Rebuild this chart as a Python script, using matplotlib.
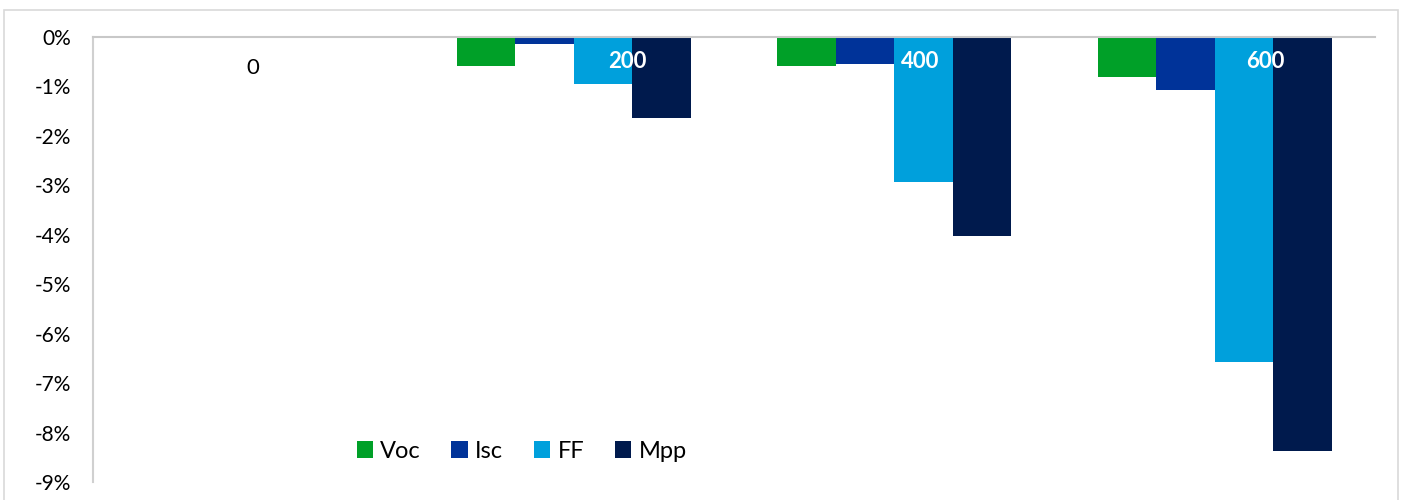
import numpy as np
import matplotlib
matplotlib.use('Agg')
from matplotlib import pyplot as plt
from matplotlib.patches import Rectangle
from matplotlib.ticker import FuncFormatter

plt.rcParams['font.family'] = ['Lato', 'DejaVu Sans']

categorias = ['0', '200', '400', '600']
series = ['Voc', 'Isc', 'FF', 'Mpp']
voc = [0.0, -0.59, -0.59, -0.81]
isc = [0.0, -0.14, -0.55, -1.07]
ff = [0.0, -0.95, -2.94, -6.58]
mpp = [0.0, -1.64, -4.03, -8.38]
colores = ['#00A028', '#003399', '#00A0DC', '#001A4D']
# desplazamiento de las etiquetas de categoría respecto al centro del grupo
desplaz_etiqueta = [0.0, 0.166, 0.08, 0.157]

fig = plt.figure(figsize=(14.02, 5), dpi=100)
ax = fig.add_axes([0.0663, 0.036, 0.9144, 0.89])

# marco exterior del gráfico
fig.patches.append(Rectangle((0.003, -0.01), 0.994, 0.99, transform=fig.transFigure,
                             fill=False, edgecolor='#d9d9d9', linewidth=1.2))

x = np.arange(len(categorias))
ancho = 0.1825
for i, (nombre, valores) in enumerate(zip(series, [voc, isc, ff, mpp])):
    ax.bar(x + (i - 1.5) * ancho, valores, width=ancho, color=colores[i], label=nombre, zorder=2)

for i, cat in enumerate(categorias):
    if i == 0:
        ax.text(x[i] + desplaz_etiqueta[i], -0.62, cat, ha='center', va='center',
                fontsize=16, color='black', zorder=5)
    else:
        ax.text(x[i] + desplaz_etiqueta[i], -0.5, cat, ha='center', va='center',
                fontsize=16, color='white', fontweight='bold', zorder=5)

ax.set_xlim(-0.5, 3.5)
ax.set_ylim(-9, 0)
ax.set_yticks(np.arange(-9, 1, 1))
ax.yaxis.set_major_formatter(FuncFormatter(lambda v, p: f'{v:.0f}%'))
ax.tick_params(axis='y', length=0, labelsize=15, pad=16)
ax.set_xticks([])

for lado in ['right', 'bottom']:
    ax.spines[lado].set_visible(False)
ax.spines['left'].set_color('#d0d0d0')
ax.spines['top'].set_color('#c8c8c8')
ax.spines['left'].set_linewidth(1.5)
ax.spines['top'].set_linewidth(1.5)

fig.legend(loc='center', bbox_to_anchor=(0.372, 0.098), ncol=4, frameon=False, fontsize=17,
           handlelength=0.7, handleheight=0.7, handletextpad=0.3, columnspacing=1.3)

fig.savefig('out.png', dpi=100)
